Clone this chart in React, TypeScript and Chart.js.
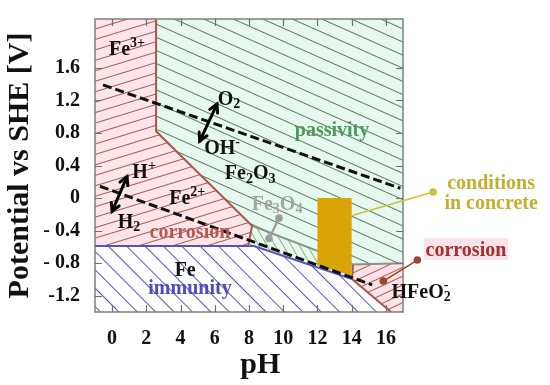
import React, { useEffect, useRef } from 'react';
import { Chart, registerables } from 'chart.js';
Chart.register(...registerables);

// ---- axes ----
const xTicks = [0, 2, 4, 6, 8, 10, 12, 14, 16];
const yTicks = [-1.2, -0.8, -0.4, 0, 0.4, 0.8, 1.2, 1.6];
const yTickLabels = ['-1.2', '- 0.8', '- 0.4', '0', '0.4', '0.8', '1.2', '1.6'];

// ---- stability regions [pH, E] ----
const ironIonRegion = [[-1, 2.2], [2.57, 2.2], [2.57, 0.82], [8.18, -0.342], [7.95, -0.59], [-1, -0.59]];
const hematiteRegion = [[2.57, 2.2], [17, 2.2], [17, -0.8], [14.08, -0.817], [8.18, -0.342], [2.57, 0.82]];
const magnetiteRegion = [[8.18, -0.342], [14.08, -0.817], [14.02, -0.996], [8.29, -0.59], [7.95, -0.59]];
const ironRegion = [[-1, -0.59], [8.29, -0.59], [14.02, -0.996], [16.3, -1.4], [-1, -1.4]];
const hfeo2Region = [[14.08, -0.817], [17, -0.8], [17, -1.4], [16.3, -1.4], [14.02, -0.996]];
const concreteBox = [[12, 0], [14, 0], [14, -0.95], [12, -0.83]];

// ---- boundaries ----
const ionBoundary = [[2.57, 2.2], [2.57, 0.82], [8.18, -0.342], [7.95, -0.59]];
const ironBoundary = [[-1, -0.59], [8.29, -0.59], [14.02, -0.996]];
const oxideBoundary = [[8.18, -0.342], [14.08, -0.817], [17, -0.8]];
const hfeo2Boundary = [[14.08, -0.817], [14.02, -0.996], [16.3, -1.4]];
const oxygenLine = [[-0.53, 1.39], [16.85, 0.12]];
const hydrogenLine = [[-0.71, 0.145], [15.2, -1.067]];

// ---- annotations [pH, E] ----
const arrows = [
  { from: [5.12, 0.7], to: [6.13, 1.155] },
  { from: [0.0, -0.164], to: [0.87, 0.264] },
];
const leaders = [
  { from: [14.08, -0.211], to: [18.76, 0.074], color: '#C9C236', w: 1.6, dots: [false, true] },
  { from: [15.85, -1.02], to: [17.84, -0.762], color: '#A0462E', w: 1.6, dots: [true, true] },
  { from: [9.17, -0.497], to: [9.75, -0.247], color: '#9C9C9C', w: 2.2, dots: [true, true] },
];
const textLabels: { parts: [string, string][]; at: number[]; color?: string; bg?: string }[] = [
  { parts: [['Fe', 'n'], ['3+', 'sup']], at: [0.87, 1.844] },
  { parts: [['O', 'n'], ['2', 'sub']], at: [6.83, 1.226] },
  { parts: [['OH', 'n'], ['-', 'sup']], at: [6.43, 0.62] },
  { parts: [['Fe', 'n'], ['2', 'sub'], ['O', 'n'], ['3', 'sub']], at: [8.07, 0.311] },
  { parts: [['passivity', 'n']], at: [12.85, 0.846], color: '#4E9A5C' },
  { parts: [['H', 'n'], ['+', 'sup']], at: [1.87, 0.323] },
  { parts: [['Fe', 'n'], ['2+', 'sup']], at: [4.39, 0.014] },
  { parts: [['H', 'n'], ['2', 'sub']], at: [0.99, -0.283] },
  { parts: [['corrosion', 'n']], at: [4.55, -0.413], color: '#B55A50' },
  { parts: [['Fe', 'n'], ['3', 'sub'], ['O', 'n'], ['4', 'sub']], at: [9.64, -0.069], color: '#A5A5A5' },
  { parts: [['Fe', 'n']], at: [4.27, -0.877] },
  { parts: [['immunity', 'n']], at: [4.55, -1.1], color: '#4C4CC0' },
  { parts: [['HFeO', 'n'], ['2', 'sub'], ['-', 'over']], at: [18.06, -1.15] },
  { parts: [['conditions', 'n']], at: [22.15, 0.192], color: '#C4AE30' },
  { parts: [['in concrete', 'n']], at: [22.15, -0.057], color: '#C4AE30' },
  { parts: [['corrosion', 'n']], at: [20.68, -0.627], color: '#A3302C', bg: '#FCE3EA' },
];

const FONT = '"Liberation Serif", "DejaVu Serif", serif';
const P = (arr: number[][]) => arr.map(([x, y]) => ({ x, y }));

function makeHatch(ctx: CanvasRenderingContext2D, bg: string, fg: string, spacing: number, angle: number, lw = 1) {
  const c = document.createElement('canvas');
  c.width = 40;
  c.height = spacing;
  const g = c.getContext('2d')!;
  g.fillStyle = bg;
  g.fillRect(0, 0, 40, spacing);
  g.strokeStyle = fg;
  g.lineWidth = lw;
  g.beginPath();
  g.moveTo(0, Math.floor(spacing / 2) + 0.5);
  g.lineTo(40, Math.floor(spacing / 2) + 0.5);
  g.stroke();
  const p = ctx.createPattern(c, 'repeat')!;
  p.setTransform(new DOMMatrix().rotateSelf(angle));
  return p;
}

function drawRich(ctx: CanvasRenderingContext2D, cx: number, cy: number, parts: [string, string][], size: number, color: string, bg?: string) {
  const small = Math.round(size * 0.68);
  const fN = `bold ${size}px ${FONT}`;
  const fS = `bold ${small}px ${FONT}`;
  const widths: number[] = [];
  let w = 0;
  parts.forEach(([t, k], i) => {
    ctx.font = k === 'n' ? fN : fS;
    const m = ctx.measureText(t).width;
    widths.push(m);
    if (k !== 'over') w += m;
    else if (m > widths[i - 1]) w += m - widths[i - 1];
  });
  let xx = cx - w / 2;
  const base = cy + size * 0.33;
  if (bg) {
    ctx.fillStyle = bg;
    ctx.fillRect(xx - 2, cy - size * 0.55, w + 4, size * 1.1);
  }
  ctx.fillStyle = color;
  ctx.textAlign = 'left';
  ctx.textBaseline = 'alphabetic';
  let prevX = xx;
  parts.forEach(([t, k], i) => {
    ctx.font = k === 'n' ? fN : fS;
    let dx = xx;
    let dy = base;
    if (k === 'sub') dy = base + size * 0.16;
    if (k === 'sup') dy = base - size * 0.4;
    if (k === 'over') { dx = prevX; dy = base - size * 0.45; }
    ctx.fillText(t, dx, dy);
    if (k !== 'over') { prevX = xx; xx += widths[i]; }
  });
}

function drawArrow(ctx: CanvasRenderingContext2D, x1: number, y1: number, x2: number, y2: number) {
  const ang = Math.atan2(y2 - y1, x2 - x1);
  ctx.strokeStyle = '#000';
  ctx.lineWidth = 3;
  ctx.lineCap = 'round';
  ctx.beginPath();
  ctx.moveTo(x1, y1);
  ctx.lineTo(x2, y2);
  ctx.stroke();
  const head = (tx: number, ty: number, a: number) => {
    ctx.beginPath();
    ctx.moveTo(tx - 9 * Math.cos(a - 0.5), ty - 9 * Math.sin(a - 0.5));
    ctx.lineTo(tx, ty);
    ctx.lineTo(tx - 9 * Math.cos(a + 0.5), ty - 9 * Math.sin(a + 0.5));
    ctx.stroke();
  };
  head(x2, y2, ang);
  head(x1, y1, ang + Math.PI);
}

const annotPlugin = {
  id: 'annot',
  afterDatasetsDraw(chart: any) {
    const { ctx, chartArea: a, scales } = chart;
    const px = (v: number) => scales.x.getPixelForValue(v);
    const py = (v: number) => scales.y.getPixelForValue(v);
    ctx.save();
    // frame
    ctx.strokeStyle = '#7f7f7f';
    ctx.lineWidth = 1.5;
    ctx.strokeRect(a.left, a.top, a.right - a.left, a.bottom - a.top);
    // inward ticks
    ctx.strokeStyle = '#6e6e6e';
    ctx.lineWidth = 1.2;
    ctx.beginPath();
    for (const v of xTicks) {
      const X = Math.round(px(v)) + 0.5;
      ctx.moveTo(X, a.bottom); ctx.lineTo(X, a.bottom - 7);
      ctx.moveTo(X, a.top); ctx.lineTo(X, a.top + 7);
    }
    for (const v of yTicks) {
      const Y = Math.round(py(v)) + 0.5;
      ctx.moveTo(a.left, Y); ctx.lineTo(a.left + 7, Y);
      ctx.moveTo(a.right, Y); ctx.lineTo(a.right - 7, Y);
    }
    ctx.stroke();
    // arrows
    for (const ar of arrows) drawArrow(ctx, px(ar.from[0]), py(ar.from[1]), px(ar.to[0]), py(ar.to[1]));
    // leaders
    for (const l of leaders) {
      const x1 = px(l.from[0]), y1 = py(l.from[1]), x2 = px(l.to[0]), y2 = py(l.to[1]);
      ctx.strokeStyle = l.color;
      ctx.fillStyle = l.color;
      ctx.lineWidth = l.w;
      ctx.beginPath(); ctx.moveTo(x1, y1); ctx.lineTo(x2, y2); ctx.stroke();
      if (l.dots[0]) { ctx.beginPath(); ctx.arc(x1, y1, 3.8, 0, Math.PI * 2); ctx.fill(); }
      if (l.dots[1]) { ctx.beginPath(); ctx.arc(x2, y2, 3.8, 0, Math.PI * 2); ctx.fill(); }
    }
    // labels
    for (const t of textLabels) drawRich(ctx, px(t.at[0]), py(t.at[1]), t.parts, 20, t.color || '#111', t.bg);
    ctx.restore();
  },
};

export default function App() {
  const ref = useRef<HTMLCanvasElement>(null);
  useEffect(() => {
    const canvas = ref.current!;
    const ctx = canvas.getContext('2d')!;
    const pinkHatch = makeHatch(ctx, '#FDE5EA', '#A35D50', 10, -17);
    const greenHatch = makeHatch(ctx, '#E6F9F0', '#5E7D5A', 12, 24);
    const blueHatch = makeHatch(ctx, '#FFFFFF', '#5656B6', 13, 45);
    const magHatch = makeHatch(ctx, '#EAF8EC', '#86B686', 7, 60);
    const hfeHatch = makeHatch(ctx, '#FDE3E8', '#B0584C', 8, -25);

    const poly = (d: number[][], bg: any) => ({
      data: P(d), showLine: true, fill: 'shape', backgroundColor: bg,
      borderColor: 'transparent', borderWidth: 0, pointRadius: 0, tension: 0,
    });
    const line = (d: number[][], color: string, width: number, dash: number[] = []) => ({
      data: P(d), showLine: true, fill: false, borderColor: color, borderWidth: width,
      borderDash: dash, pointRadius: 0, tension: 0, backgroundColor: color,
    });

    const chart = new Chart(canvas, {
      type: 'scatter',
      data: {
        datasets: [
          line(oxygenLine, '#111111', 3, [9, 4]),
          line(hydrogenLine, '#111111', 3, [9, 4]),
          poly(concreteBox, '#D9A406'),
          line(ionBoundary, '#A5574A', 2),
          line(ironBoundary, '#5252C2', 2),
          line(oxideBoundary, '#8E8E8E', 2),
          line(hfeo2Boundary, '#A5574A', 2),
          poly(ironIonRegion, pinkHatch),
          poly(hematiteRegion, greenHatch),
          poly(magnetiteRegion, magHatch),
          poly(ironRegion, blueHatch),
          poly(hfeo2Region, hfeHatch),
        ] as any,
      },
      options: {
        animation: false,
        responsive: false,
        maintainAspectRatio: false,
        events: [],
        layout: { padding: { left: 0, right: 147, top: 9, bottom: 0 } },
        plugins: { legend: { display: false }, tooltip: { enabled: false } },
        scales: {
          x: {
            type: 'linear', min: -1, max: 17,
            afterBuildTicks: (s: any) => { s.ticks = xTicks.map((v) => ({ value: v })); },
            afterFit: (s: any) => { s.height = 73; },
            grid: { display: false }, border: { display: false },
            ticks: { color: '#111', padding: 7, font: { family: FONT, weight: 'bold', size: 20 }, maxRotation: 0, autoSkip: false },
            title: { display: true, text: '   pH', color: '#111', padding: { top: 0, bottom: 2 }, font: { family: FONT, weight: 'bold', size: 30 } },
          },
          y: {
            type: 'linear', min: -1.4, max: 2.2,
            afterBuildTicks: (s: any) => { s.ticks = yTicks.map((v) => ({ value: v })); },
            afterFit: (s: any) => { s.width = 95; },
            grid: { display: false }, border: { display: false },
            ticks: { color: '#111', padding: 7, font: { family: FONT, weight: 'bold', size: 20 }, autoSkip: false, callback: (_v: any, i: number) => yTickLabels[i] },
            title: { display: true, text: 'Potential vs SHE [V]', color: '#111', padding: { top: 2, bottom: 0 }, font: { family: FONT, weight: 'bold', size: 30 } },
          },
        },
      } as any,
      plugins: [annotPlugin],
    });
    return () => chart.destroy();
  }, []);
  return (
    <div style={{ position: 'fixed', left: 0, top: 0, width: 550, height: 385, background: '#fff' }}>
      <canvas ref={ref} width={550} height={385} style={{ display: 'block' }} />
    </div>
  );
}
